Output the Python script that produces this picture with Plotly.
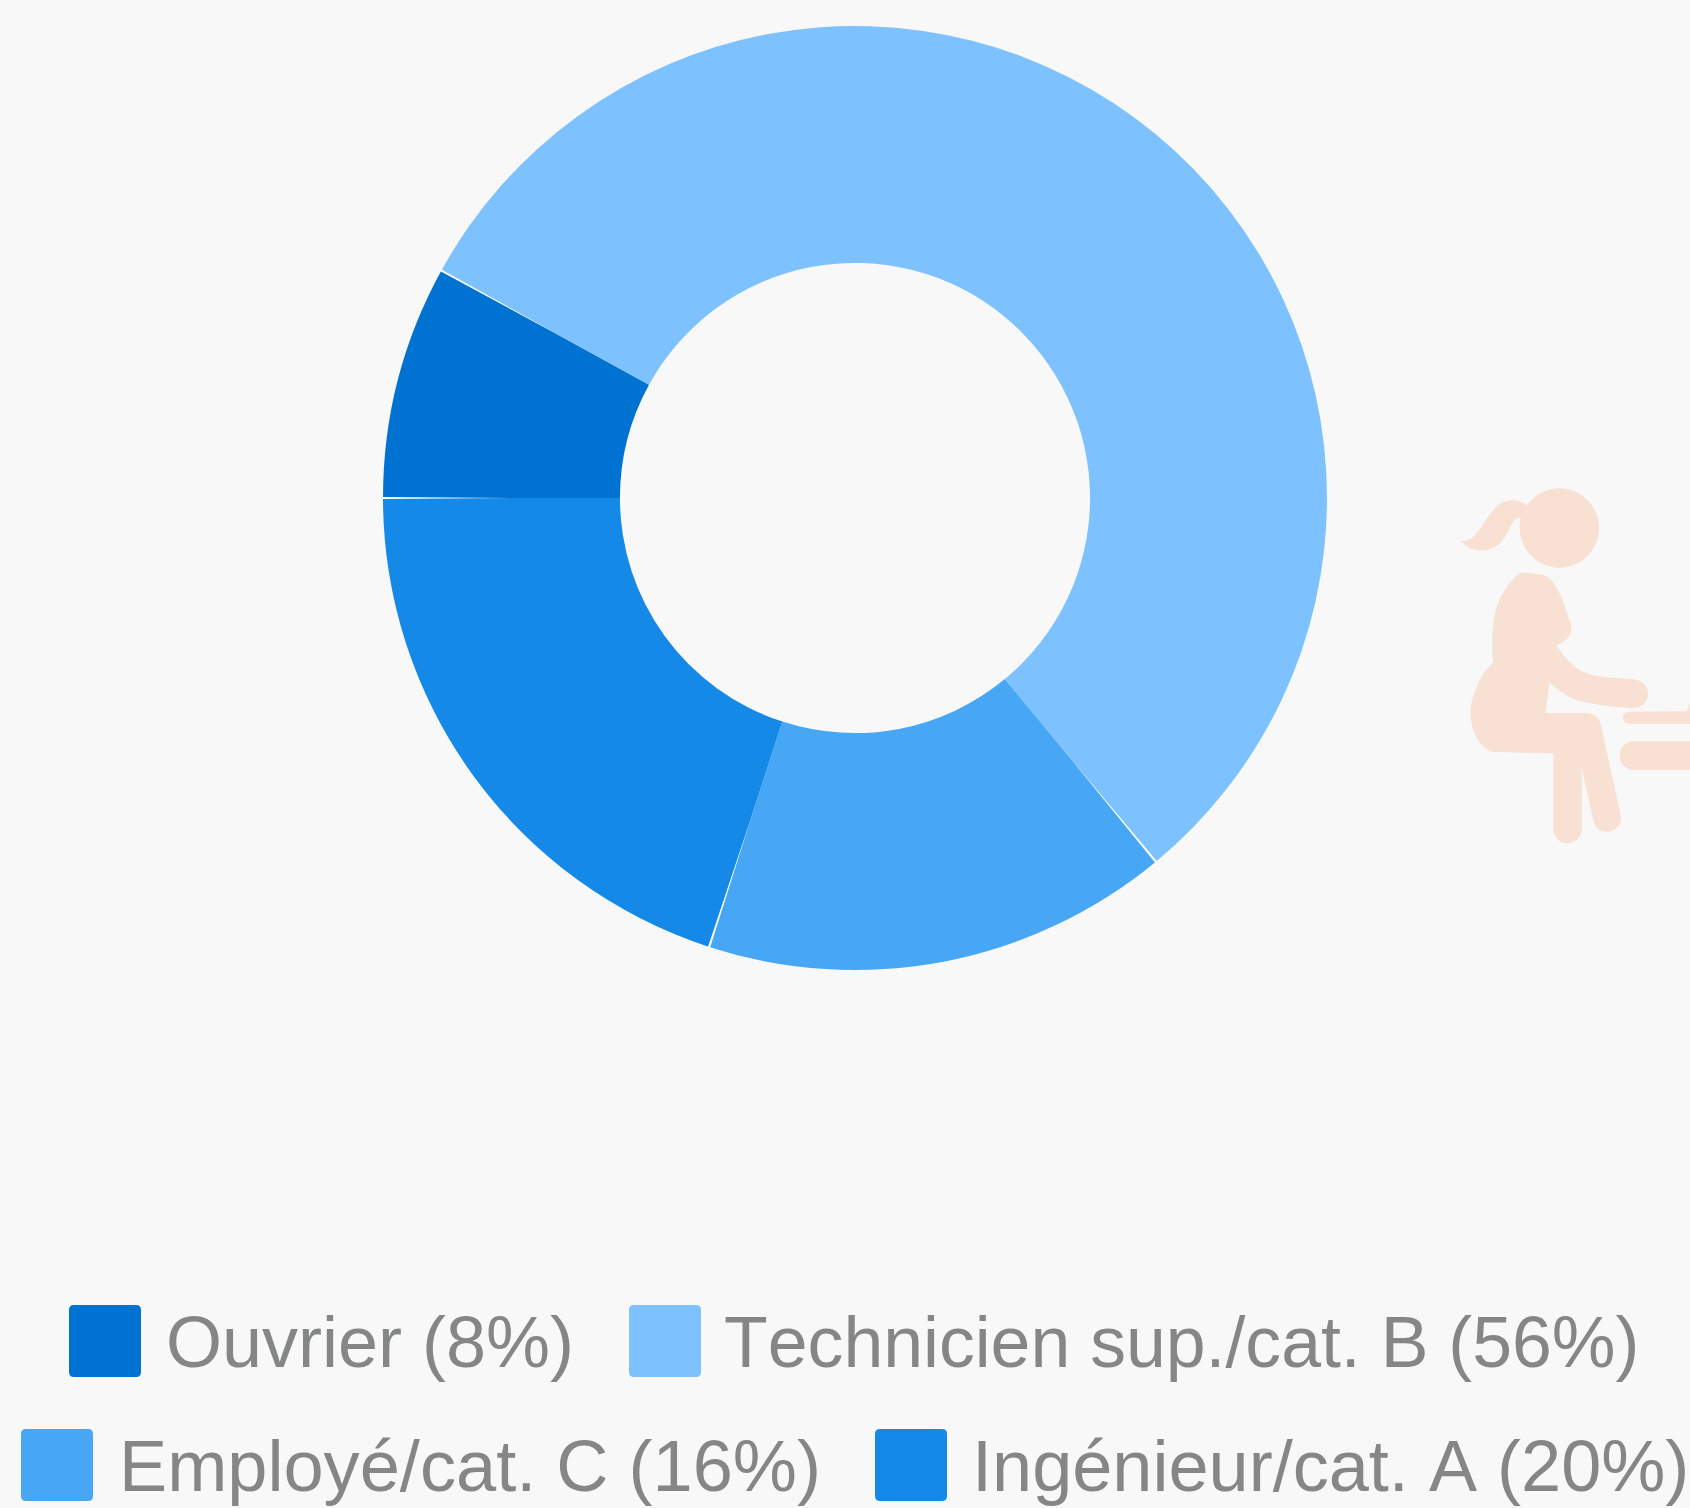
import math
import plotly.graph_objects as go

# ---- data ----
categories = ["Ouvrier", "Technicien sup./cat. B", "Employé/cat. C", "Ingénieur/cat. A"]
shares = [8, 56, 16, 20]
colors = ["#0073D2", "#7DC2FF", "#48A7F5", "#1589E8"]

# ---- layout constants (page pixels) ----
W, H = 1690, 1508
BG = "#F8F8F8"
TEXT = "#858687"
ICON = "#F8E1D3"
CX, CY, R = 855, 498, 472
SWATCH = 72
legend_x = [69, 629, 21, 875]
legend_y = [1305, 1305, 1429, 1429]
legend_font = [72, 71.6, 72.2, 72.1]
legend_dx = [0, 1.6, 1, 3.8]
TEXT_GAP = 25
TEXT_DY = 37


def px(x):
    return x / W


def py(y):
    return 1 - y / H


def to_path(cmds, fx, fy):
    out = []
    for c in cmds:
        pts = c[1:]
        coords = " ".join(f"{fx(pts[i]):.5f},{fy(pts[i + 1]):.5f}" for i in range(0, len(pts), 2))
        out.append(f"{c[0]}{coords}")
    return " ".join(out) + " Z"


def zoom_x(x):
    return px(1430 + x / 3)


def zoom_y(y):
    return py(470 + y / 3)


def circle(cx, cy, r):
    k = 0.5523 * r
    return [
        ("M", cx + r, cy),
        ("C", cx + r, cy + k, cx + k, cy + r, cx, cy + r),
        ("C", cx - k, cy + r, cx - r, cy + k, cx - r, cy),
        ("C", cx - r, cy - k, cx - k, cy - r, cx, cy - r),
        ("C", cx + k, cy - r, cx + r, cy - k, cx + r, cy),
    ]


icon_parts = [
    circle(388, 174, 119),
    [("M", 292, 108), ("C", 275, 90, 235, 82, 205, 105), ("C", 178, 128, 160, 165, 140, 190),
     ("C", 125, 208, 110, 214, 93, 213), ("C", 110, 235, 135, 243, 160, 241),
     ("C", 190, 238, 210, 225, 225, 200), ("C", 238, 178, 250, 148, 262, 143), ("L", 275, 147)],
    [("M", 278, 308), ("C", 300, 308, 340, 312, 352, 320), ("C", 385, 340, 405, 410, 422, 460),
     ("C", 430, 490, 415, 510, 380, 528), ("C", 410, 570, 440, 600, 470, 610),
     ("C", 510, 622, 570, 626, 610, 628), ("C", 635, 630, 654, 648, 654, 672),
     ("C", 654, 696, 635, 714, 610, 714), ("C", 560, 712, 490, 705, 440, 690),
     ("C", 410, 680, 385, 662, 358, 637), ("C", 355, 670, 351, 700, 346, 729), ("L", 470, 729),
     ("C", 490, 729, 508, 742, 513, 765), ("L", 572, 1035), ("C", 578, 1060, 560, 1085, 530, 1085),
     ("C", 510, 1085, 495, 1072, 490, 1050), ("L", 455, 895), ("L", 455, 1078),
     ("C", 455, 1100, 437, 1120, 412, 1120), ("C", 388, 1120, 370, 1100, 370, 1078), ("L", 370, 850),
     ("L", 195, 846), ("C", 160, 845, 120, 790, 121, 725), ("C", 122, 690, 140, 650, 155, 620),
     ("C", 165, 600, 180, 590, 189, 575), ("C", 185, 540, 185, 480, 195, 430),
     ("C", 205, 380, 235, 340, 262, 315), ("C", 268, 310, 272, 308, 278, 308)],
    [("M", 596, 725), ("L", 770, 724), ("L", 778, 703), ("L", 800, 703), ("L", 800, 761), ("L", 596, 761),
     ("C", 586, 761, 578, 753, 578, 743), ("C", 578, 733, 586, 725, 596, 725)],
    [("M", 612, 814), ("L", 800, 814), ("L", 800, 900), ("L", 612, 900),
     ("C", 588, 900, 569, 881, 569, 857), ("C", 569, 833, 588, 814, 612, 814)],
]

shapes = [
    dict(type="path", xref="paper", yref="paper", path=to_path(p, zoom_x, zoom_y),
         fillcolor=ICON, line=dict(width=0), layer="below")
    for p in icon_parts
]


def rounded(x, y, s, r=5):
    return [("M", x + r, y), ("L", x + s - r, y), ("Q", x + s, y, x + s, y + r), ("L", x + s, y + s - r),
            ("Q", x + s, y + s, x + s - r, y + s), ("L", x + r, y + s), ("Q", x, y + s, x, y + s - r),
            ("L", x, y + r), ("Q", x, y, x + r, y)]


annotations = []
for name, share, color, lx, ly, fs, dx in zip(categories, shares, colors, legend_x, legend_y, legend_font, legend_dx):
    shapes.append(dict(type="path", xref="paper", yref="paper", path=to_path(rounded(lx, ly, SWATCH), px, py),
                       fillcolor=color, line=dict(width=0)))
    annotations.append(dict(xref="paper", yref="paper", x=px(lx + SWATCH + TEXT_GAP + dx), y=py(ly + TEXT_DY),
                            xanchor="left", yanchor="middle", showarrow=False, borderpad=0, borderwidth=0,
                            text=f"{name} ({share}%)",
                            font=dict(family="Liberation Sans, Arial, sans-serif", size=fs, color=TEXT)))

# thin white gaps that taper off towards the hole, at each slice boundary
total = sum(shares)
cum = 0
for share in shares:
    cum += share
    a = math.radians(270 + 360 * cum / total)  # clockwise from 12 o'clock
    ux, uy = math.sin(a), -math.cos(a)
    nx, ny = -uy, ux
    r0, r1 = R + 1, 0.72 * R
    hw = 1.1
    tri = [("M", CX + ux * r0 + nx * hw, CY + uy * r0 + ny * hw),
           ("L", CX + ux * r0 - nx * hw, CY + uy * r0 - ny * hw),
           ("L", CX + ux * r1, CY + uy * r1)]
    shapes.append(dict(type="path", xref="paper", yref="paper", path=to_path(tri, px, py),
                       fillcolor="#FFFFFF", line=dict(width=0)))

fig = go.Figure(go.Pie(
    labels=categories,
    values=shares,
    sort=False,
    direction="clockwise",
    rotation=270,
    hole=0.498,
    textinfo="none",
    marker=dict(colors=colors, line=dict(color="#FFFFFF", width=0)),
    domain=dict(x=[px(CX - R), px(CX + R)], y=[py(CY + R), py(CY - R)]),
    showlegend=False,
))
fig.update_layout(
    width=W, height=H, autosize=False,
    margin=dict(l=0, r=0, t=0, b=0),
    paper_bgcolor=BG, plot_bgcolor=BG,
    shapes=shapes, annotations=annotations,
)
fig.write_html(
    "out.html",
    config=dict(displayModeBar=False),
    post_script=(
        "document.body.style.margin='0';document.body.style.overflow='hidden';"
        "document.body.style.background='" + BG + "';"
        "var s=document.createElement('style');s.textContent='text{font-kerning:none;}';"
        "document.head.appendChild(s);"
        "Plotly.redraw(document.getElementById('{plot_id}'));"
    ),
)
